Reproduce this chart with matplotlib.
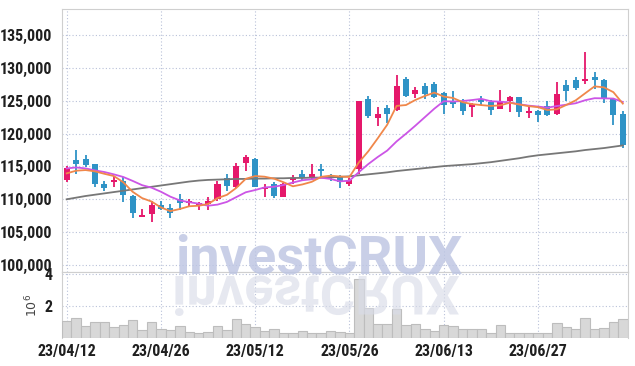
import matplotlib
matplotlib.use("Agg")
import matplotlib.pyplot as plt
import numpy as np
from matplotlib.textpath import TextPath
from matplotlib.patches import PathPatch
from matplotlib.font_manager import FontProperties
from matplotlib.transforms import Affine2D

# daily candles, 23/04/12 .. 23/07/10 (60 sessions)
opens = [112900, 116000, 116200, 115300, 112400, 112700, 112800, 110500, 107300, 107700,
         109200, 108600, 110100, 109400, 109100, 109300, 110000, 113300, 111800, 115550,
         116200, 111500, 112400, 110400, 112900, 113800, 113300, 114650, 113550, 113500,
         112300, 114550, 125300, 122400, 123900, 123650, 128350, 126050, 127300, 127550,
         126150, 124800, 124800, 124050, 125300, 124750, 123750, 124900, 125550, 123150,
         123500, 124150, 123000, 127400, 128200, 127950, 128650, 128200, 125300, 123050]
highs = [115000, 117500, 116800, 115400, 112800, 113500, 113400, 110600, 108500, 109700,
         109800, 109300, 110800, 110100, 109600, 110300, 112800, 113800, 115600, 116700,
         116300, 112400, 112700, 112500, 113700, 114400, 115400, 115400, 113900, 113700,
         113200, 125000, 125650, 124000, 124400, 128900, 128600, 127150, 127700, 127800,
         126300, 126500, 125300, 124700, 125700, 125100, 126650, 125700, 125600, 124150,
         123600, 124900, 127800, 128200, 128550, 132400, 129450, 128250, 125400, 123500]
lows = [112700, 113900, 114900, 111900, 111200, 111900, 109600, 107100, 107300, 106500,
        108300, 107100, 108300, 109000, 108300, 108400, 109800, 111300, 111700, 114300,
        111800, 110300, 110200, 110300, 112400, 112900, 112900, 113300, 112800, 111700,
        112000, 113800, 122400, 121100, 121600, 123500, 125500, 125400, 125250, 125400,
        123000, 123900, 122900, 122600, 124300, 122900, 123700, 123250, 122500, 122400,
        121800, 122700, 122900, 124900, 126600, 127600, 126750, 124650, 121350, 117850]
closes = [114700, 115400, 115200, 112400, 111700, 113000, 110700, 107900, 107600, 109100,
          108500, 107900, 109500, 109700, 109500, 109800, 112400, 112000, 115000, 116400,
          111900, 111900, 110500, 112300, 113300, 113300, 113900, 114300, 113200, 112700,
          112900, 125000, 122750, 123050, 123000, 127300, 125650, 126650, 126050, 125550,
          124300, 124550, 123500, 124550, 124800, 123650, 125000, 125500, 123250, 123500,
          122900, 122800, 126050, 126550, 127000, 128250, 128100, 125300, 122900, 118300]

# moving averages as shown on the chart
ma5 = [113950, 114350, 114450, 114250, 113880, 113540, 112600, 111140, 110180, 109660,
       108760, 108200, 108520, 108940, 109020, 109280, 110180, 110680, 111740, 113120,
       113540, 113440, 113140, 112600, 111980, 112260, 112660, 113420, 113600, 113480,
       113400, 115620, 117310, 119280, 121340, 124220, 124350, 125130, 125730, 126240,
       125640, 125420, 124790, 124490, 124340, 124210, 124300, 124700, 124440, 124180,
       124030, 123590, 123700, 124360, 125060, 126130, 127190, 127040, 126310, 124570]
ma10 = [114700, 114850, 114700, 114400, 114150, 113800, 113400, 112800, 112150, 111770,
        111150, 110400, 109830, 109560, 109340, 109020, 109190, 109600, 110340, 111070,
        111410, 111810, 111910, 112170, 112550, 112900, 113050, 113280, 113100, 112730,
        112830, 114140, 115365, 116440, 117410, 118810, 119985, 121220, 122505, 123790,
        124930, 124885, 124960, 125110, 125290, 124925, 124860, 124745, 124465, 124260,
        124120, 123945, 124200, 124400, 124620, 125080, 125390, 125370, 125335, 124815]
ma60 = [110000, 110250, 110500, 110700, 110900, 111100, 111300, 111500, 111700, 111900,
        112100, 112300, 112500, 112700, 112850, 112950, 113000, 113050, 113100, 113100,
        113150, 113150, 113200, 113200, 113250, 113250, 113300, 113300, 113350, 113400,
        113500, 113650, 113800, 113950, 114100, 114300, 114450, 114600, 114750, 114900,
        115050, 115150, 115250, 115350, 115500, 115650, 115850, 116050, 116250, 116500,
        116700, 116850, 117000, 117150, 117300, 117500, 117650, 117800, 118000, 118200]

volumes = [1.05, 1.22, 0.74, 0.97, 0.97, 0.66, 0.80, 1.11, 0.47, 0.97,
           0.56, 0.47, 0.72, 0.37, 0.33, 0.37, 0.72, 0.47, 1.15, 0.86,
           0.68, 0.43, 0.59, 0.33, 0.34, 0.41, 0.34, 0.29, 0.41, 0.37,
           0.29, 3.69, 1.89, 0.84, 0.84, 1.83, 0.80, 0.86, 0.59, 0.41,
           0.80, 0.72, 0.54, 0.54, 0.54, 0.29, 0.80, 0.34, 0.34, 0.29,
           0.29, 0.34, 0.91, 0.66, 0.54, 1.22, 0.54, 0.62, 0.97, 1.15]

tick_labels = ["23/04/12", "23/04/26", "23/05/12", "23/05/26", "23/06/13", "23/06/27"]
price_ticks = [100000, 105000, 110000, 115000, 120000, 125000, 130000, 135000]

UP = "#e5186b"
DOWN = "#2f93c6"
GRID = "#b9c1d9"
SPINE = "#cfcfcf"
label_font = ["Roboto Condensed", "Roboto", "DejaVu Sans"]

fig = plt.figure(figsize=(6.35, 3.66), dpi=100)
ax = fig.add_axes([0.0976, 0.256, 0.8906, 0.7186])
axv = fig.add_axes([0.0976, 0.0765, 0.8906, 0.1795], sharex=ax)

x = np.arange(len(closes))
o = np.array(opens)
c = np.array(closes)
colors = [UP if cc >= oo else DOWN for oo, cc in zip(o, c)]

ax.vlines(x, lows, highs, colors=colors, linewidth=1.3, zorder=3)
body = np.maximum(np.abs(c - o), 250)
ax.bar(x, body, bottom=np.minimum(o, c), width=0.64, color=colors, zorder=4)

ax.plot(x, ma60, color="#777777", linewidth=1.3, zorder=5)
ax.plot(x, ma10, color="#cc55e6", linewidth=1.3, zorder=5)
ax.plot(x, ma5, color="#f0874a", linewidth=1.3, zorder=5)

ax.set_xlim(-0.5, len(closes) - 0.5)
ax.set_ylim(98885, 138925)
ax.set_yticks(price_ticks)
ax.set_yticklabels([f"{v:,}" for v in price_ticks])

axv.bar(x, np.array(volumes) * 1e6, width=1.0, color="#d8d8d8", edgecolor="#bdbdbd",
        linewidth=0.8, zorder=3)
axv.set_ylim(0, 4.08e6)
axv.set_yticks([2e6, 4e6])
axv.set_yticklabels(["2", "4"])
axv.set_ylabel(r"$10^{6}$", fontsize=9, color="#444444", labelpad=3)
axv.set_xticks(range(0, len(closes), 10))
axv.set_xticklabels(tick_labels)

for a in (ax, axv):
    a.grid(True, linestyle=(0, (1, 2)), color=GRID, linewidth=0.8)
    a.set_axisbelow(True)
    a.tick_params(length=0, pad=7, labelcolor="#1f1f1f")
    for lbl in a.get_yticklabels() + a.get_xticklabels():
        lbl.set_family(label_font)
        lbl.set_weight("black")
        lbl.set_fontsize(11.5)
    for s in a.spines.values():
        s.set_color(SPINE)
ax.tick_params(labelbottom=False)
axv.spines["bottom"].set_visible(False)
axv.tick_params(axis="x", pad=4)

# investCRUX watermark (real text) + its mirrored reflection
H = 366
wm_font = FontProperties(family="Roboto", weight="bold", size=39)
fig.text(175 / 635, (H - 273) / H, "investCRUX", fontproperties=wm_font,
         color="#bcc4e2", alpha=0.8, ha="left", va="baseline", zorder=10)
tp = TextPath((0, 0), "investCRUX", size=39 * 100 / 72, prop=wm_font)
ext = tp.get_extents()
refl_tr = Affine2D().translate(-ext.x0, 0).scale(1, -1).translate(175, H - 276)
fig.add_artist(PathPatch(tp, transform=refl_tr, facecolor="#d9dce8", edgecolor="none",
                         alpha=0.65, zorder=10))

fig.savefig("out.png", dpi=100)
